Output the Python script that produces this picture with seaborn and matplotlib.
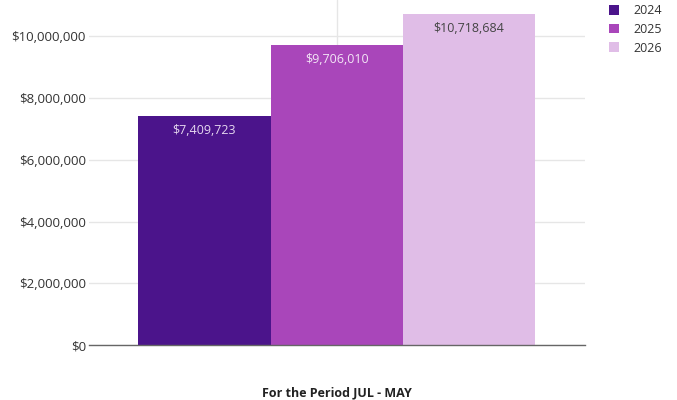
import pandas as pd
import matplotlib.pyplot as plt
import seaborn as sns
from matplotlib.ticker import FuncFormatter

# data
years = ['2024', '2025', '2026']
revenue = [7409723, 9706010, 10718684]
period = ['For the Period JUL - MAY'] * 3
colors = ['#4b148b', '#a946ba', '#e0bde7']
label_colors = ['#e6d8f0', '#f3e6f6', '#444444']

df = pd.DataFrame({'period': period, 'year': years, 'revenue': revenue})

sns.set_style('white')
plt.rcParams['font.family'] = ['Open Sans', 'DejaVu Sans']

fig, ax = plt.subplots(figsize=(6.77, 4.0), dpi=100)
fig.subplots_adjust(left=0.131, right=0.864, top=1.0, bottom=0.137)

sns.barplot(data=df, x='period', y='revenue', hue='year', palette=colors,
            width=0.8, saturation=1, ax=ax, zorder=2, linewidth=0)

ax.set_ylim(0, 11.17e6)
ax.set_yticks(range(0, 10000001, 2000000))
ax.yaxis.set_major_formatter(FuncFormatter(lambda v, p: f'${v:,.0f}'))
ax.grid(axis='y', color='#e6e6e6', linewidth=1, zorder=0)
ax.axvline(0, color='#e6e6e6', linewidth=1, zorder=0)
ax.tick_params(axis='y', labelsize=9.5, colors='#333333', length=0, pad=2)
ax.tick_params(axis='x', length=0, labelbottom=False)
ax.set_ylabel('')
ax.set_xlabel('For the Period JUL - MAY', fontsize=9, fontweight='bold',
              color='#222222', labelpad=30)

for s in ['top', 'right', 'left']:
    ax.spines[s].set_visible(False)
ax.spines['bottom'].set_color('#666666')
ax.spines['bottom'].set_linewidth(1)

# value labels inside top of bars
for bars, lc, v in zip(ax.containers, label_colors, revenue):
    ax.bar_label(bars, labels=[f'${v:,.0f}'], label_type='edge', padding=-15,
                 color=lc, fontsize=9)

leg = ax.legend(loc='upper left', bbox_to_anchor=(1.025, 1.02), frameon=False,
                fontsize=9, handlelength=0.8, handleheight=0.8,
                handletextpad=1.2, labelspacing=0.45)
for t in leg.get_texts():
    t.set_color('#333333')

fig.savefig('out.png', dpi=100)
